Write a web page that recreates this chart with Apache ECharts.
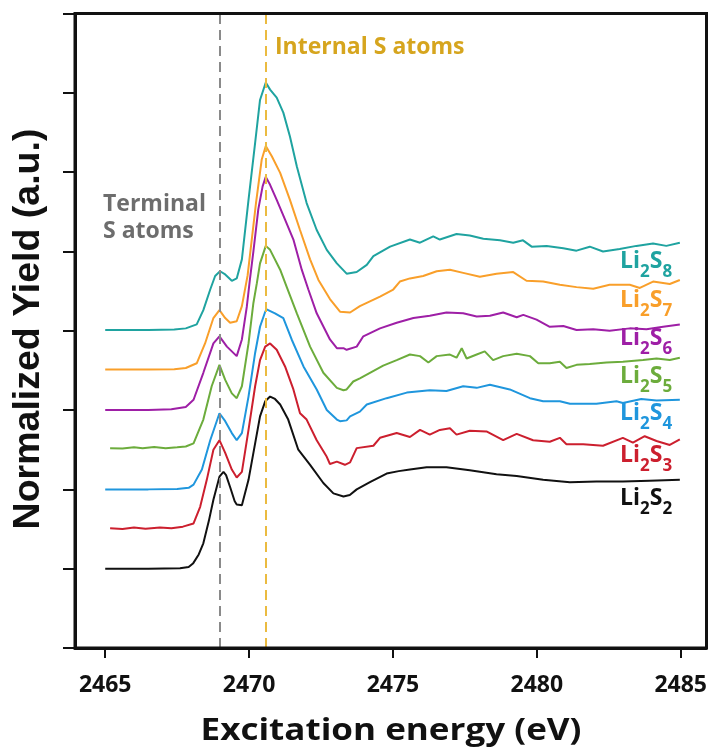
<!DOCTYPE html>
<html><head><meta charset="utf-8">
<script src="https://cdn.jsdelivr.net/npm/echarts@6/dist/echarts.min.js"></script>
<style>html,body{margin:0;padding:0;background:#fff}#c{width:710px;height:751px}</style>
</head><body><div id="c"></div>
<script>
// ---- data ----
const xTicks = [2465, 2470, 2475, 2480, 2485];
const terminalE = 2468.97;
const internalE = 2470.58;

const li2s2 = [[2465.0,1.00],[2466.5,1.00],[2467.6,1.005],[2467.9,1.02],[2468.06,1.07],[2468.25,1.18],[2468.41,1.32],[2468.6,1.6],[2468.76,1.87],[2468.97,2.16],[2469.11,2.22],[2469.2,2.18],[2469.34,2.03],[2469.5,1.85],[2469.57,1.81],[2469.75,1.80],[2469.98,2.12],[2470.21,2.58],[2470.38,2.92],[2470.56,3.11],[2470.73,3.17],[2470.9,3.14],[2471.08,3.07],[2471.36,2.88],[2471.71,2.50],[2472.12,2.31],[2472.58,2.08],[2472.93,1.95],[2473.28,1.91],[2473.5,1.93],[2473.74,2.00],[2474.2,2.09],[2474.78,2.20],[2475.2,2.23],[2475.59,2.25],[2476.17,2.28],[2476.86,2.28],[2477.67,2.24],[2478.6,2.19],[2479.3,2.17],[2480.22,2.12],[2481.15,2.09],[2482.07,2.10],[2482.99,2.10],[2483.92,2.11],[2484.97,2.12]];

const li2s3 = [[2465.17,1.51],[2465.6,1.50],[2466.0,1.52],[2466.4,1.505],[2466.9,1.52],[2467.3,1.51],[2467.7,1.53],[2468.07,1.57],[2468.30,1.78],[2468.53,2.12],[2468.76,2.50],[2468.97,2.62],[2469.17,2.46],[2469.40,2.25],[2469.57,2.15],[2469.75,2.22],[2469.98,2.75],[2470.21,3.30],[2470.38,3.63],[2470.56,3.80],[2470.73,3.84],[2470.96,3.76],[2471.25,3.55],[2471.54,3.26],[2471.77,2.96],[2472.00,2.88],[2472.35,2.62],[2472.70,2.41],[2472.81,2.32],[2473.05,2.35],[2473.33,2.31],[2473.51,2.34],[2473.74,2.52],[2474.32,2.55],[2474.55,2.65],[2475.13,2.71],[2475.59,2.66],[2475.94,2.75],[2476.28,2.69],[2476.63,2.75],[2476.98,2.77],[2477.21,2.69],[2477.67,2.74],[2478.25,2.73],[2478.83,2.62],[2479.30,2.70],[2479.87,2.62],[2480.45,2.60],[2480.80,2.65],[2481.03,2.57],[2481.61,2.57],[2482.30,2.55],[2482.99,2.65],[2483.34,2.59],[2483.75,2.67],[2484.16,2.61],[2484.62,2.56],[2484.97,2.63]];

const li2s4 = [[2465,2.0],[2466.5,2.0],[2467.5,2.005],[2467.9,2.02],[2468.07,2.06],[2468.36,2.25],[2468.65,2.62],[2468.97,2.96],[2469.17,2.86],[2469.40,2.71],[2469.57,2.62],[2469.75,2.71],[2469.98,3.17],[2470.21,3.72],[2470.38,4.05],[2470.56,4.24],[2470.61,4.27],[2470.90,4.22],[2471.19,4.16],[2471.48,3.89],[2471.89,3.55],[2472.35,3.26],[2472.70,3.00],[2473.05,2.88],[2473.16,2.86],[2473.39,2.87],[2473.51,2.92],[2473.85,2.98],[2474.09,3.07],[2474.78,3.15],[2475.48,3.22],[2476.28,3.25],[2476.86,3.24],[2477.44,3.30],[2477.91,3.28],[2478.37,3.32],[2479.06,3.26],[2479.76,3.15],[2480.22,3.11],[2480.80,3.11],[2481.15,3.08],[2482.07,3.08],[2482.77,3.11],[2482.99,3.09],[2483.63,3.14],[2484.16,3.12],[2484.97,3.13]];

const li2s5 = [[2465.17,2.52],[2465.6,2.515],[2466.0,2.53],[2466.3,2.52],[2466.7,2.535],[2467.1,2.52],[2467.5,2.53],[2467.8,2.54],[2468.07,2.58],[2468.41,2.88],[2468.70,3.30],[2468.97,3.57],[2469.17,3.38],[2469.40,3.21],[2469.57,3.15],[2469.75,3.30],[2469.98,3.84],[2470.15,4.35],[2470.27,4.60],[2470.38,4.85],[2470.58,5.07],[2470.73,5.02],[2471.08,4.77],[2471.31,4.55],[2471.66,4.22],[2472.12,3.80],[2472.58,3.47],[2473.05,3.28],[2473.28,3.25],[2473.39,3.26],[2473.62,3.36],[2473.85,3.40],[2474.20,3.47],[2474.66,3.56],[2475.13,3.63],[2475.59,3.70],[2475.94,3.68],[2476.23,3.60],[2476.52,3.68],[2476.98,3.70],[2477.21,3.66],[2477.39,3.78],[2477.56,3.65],[2477.91,3.70],[2478.19,3.74],[2478.48,3.63],[2478.83,3.68],[2479.30,3.71],[2479.76,3.68],[2480.05,3.59],[2480.45,3.59],[2480.80,3.61],[2481.03,3.53],[2481.38,3.57],[2481.84,3.58],[2482.42,3.60],[2482.99,3.61],[2483.69,3.63],[2484.16,3.65],[2484.62,3.63],[2484.97,3.66]];

const li2s6 = [[2465,3.0],[2466.5,3.0],[2467.3,3.01],[2467.8,3.04],[2468.07,3.13],[2468.41,3.47],[2468.76,3.84],[2468.97,3.93],[2469.23,3.80],[2469.57,3.68],[2469.75,3.89],[2469.92,4.30],[2470.03,4.65],[2470.15,5.00],[2470.32,5.53],[2470.47,5.82],[2470.58,5.94],[2470.73,5.84],[2470.96,5.65],[2471.25,5.40],[2471.54,5.15],[2471.83,4.77],[2472.06,4.52],[2472.35,4.22],[2472.81,3.89],[2473.05,3.78],[2473.28,3.78],[2473.39,3.76],[2473.74,3.80],[2473.97,3.93],[2474.55,4.03],[2475.13,4.10],[2475.71,4.16],[2476.28,4.19],[2476.86,4.23],[2477.44,4.22],[2477.91,4.18],[2478.37,4.19],[2478.83,4.23],[2479.30,4.17],[2479.53,4.20],[2479.99,4.14],[2480.45,4.05],[2480.92,4.06],[2481.38,4.01],[2481.96,4.02],[2482.53,4.00],[2483.23,4.03],[2483.81,4.02],[2484.39,4.05],[2484.97,4.08]];

const li2s7 = [[2465,3.51],[2466.5,3.51],[2467.4,3.515],[2467.8,3.53],[2468.18,3.59],[2468.47,3.84],[2468.76,4.16],[2468.97,4.26],[2469.17,4.16],[2469.34,4.10],[2469.57,4.12],[2469.75,4.31],[2469.95,4.70],[2470.24,5.61],[2470.44,6.16],[2470.58,6.33],[2470.79,6.20],[2471.08,5.99],[2471.42,5.65],[2471.77,5.27],[2472.12,4.90],[2472.41,4.64],[2472.81,4.40],[2473.16,4.24],[2473.51,4.23],[2473.85,4.31],[2474.20,4.37],[2474.55,4.43],[2475.01,4.52],[2475.24,4.62],[2475.59,4.66],[2476.05,4.69],[2476.52,4.75],[2476.98,4.77],[2477.44,4.73],[2478.02,4.68],[2478.60,4.72],[2479.18,4.74],[2479.64,4.63],[2480.22,4.62],[2480.80,4.58],[2481.38,4.55],[2481.96,4.53],[2482.53,4.58],[2483.23,4.58],[2483.58,4.54],[2484.04,4.62],[2484.62,4.59],[2484.97,4.64]];

const li2s8 = [[2465,4.01],[2466.5,4.01],[2467.4,4.015],[2467.8,4.03],[2468.18,4.08],[2468.41,4.26],[2468.65,4.52],[2468.82,4.69],[2468.99,4.75],[2469.17,4.71],[2469.40,4.63],[2469.57,4.66],[2469.75,4.90],[2469.98,5.65],[2470.21,6.37],[2470.38,6.91],[2470.58,7.13],[2470.73,7.04],[2470.96,6.94],[2471.19,6.75],[2471.42,6.45],[2471.66,6.07],[2472.00,5.61],[2472.35,5.27],[2472.70,5.02],[2473.05,4.85],[2473.39,4.72],[2473.74,4.74],[2474.09,4.83],[2474.32,4.94],[2474.90,5.06],[2475.59,5.15],[2475.94,5.11],[2476.40,5.19],[2476.63,5.15],[2477.21,5.22],[2477.67,5.20],[2478.14,5.16],[2478.72,5.14],[2479.18,5.11],[2479.52,5.14],[2479.82,5.06],[2480.34,5.07],[2480.92,5.04],[2481.38,5.01],[2481.84,5.06],[2482.30,5.00],[2482.88,5.03],[2483.46,5.07],[2484.04,5.10],[2484.50,5.07],[2484.97,5.11]];

const seriesData = [li2s2, li2s3, li2s4, li2s5, li2s6, li2s7, li2s8];
const subscripts = ['2', '3', '4', '5', '6', '7', '8'];

// ---- styles / layout ----
const colors = ['#111111', '#cc1f2e', '#1f96dd', '#6cac3c', '#9e1fa6', '#f99f2a', '#1fa3a0'];
const labelY = [498, 455, 413, 376, 338, 300, 261];
const FONT = '"Open Sans", "Noto Sans", sans-serif';
const X_MIN = 2463.95, X_MAX = 2485.88, Y_MIN = 0, Y_MAX = 8;
const G = {left: 75, top: 13.5, width: 631.5, height: 634.5};

const chart = echarts.init(document.getElementById('c'), null, {renderer: 'canvas'});

const series = seriesData.map((d, i) => ({
  type: 'line',
  name: 'Li' + '\u2082' + 'S' + subscripts[i],
  data: d,
  showSymbol: false,
  smooth: false,
  lineStyle: {color: colors[i], width: 2},
  itemStyle: {color: colors[i]},
  z: 3,
  animation: false
}));

series.push({
  type: 'line',
  data: [],
  markLine: {
    silent: true,
    symbol: 'none',
    label: {show: false},
    animation: false,
    data: [
      {xAxis: terminalE, lineStyle: {color: '#8a8a8a', width: 2, type: [10, 6]}},
      {xAxis: internalE, lineStyle: {color: '#ebbb40', width: 2, type: [10, 6]}}
    ]
  },
  z: 2
});

const labelGraphics = subscripts.map((s, i) => ({
  type: 'text',
  x: 620,
  y: labelY[i],
  z: 10,
  style: {
    text: '{m|Li}{s|2}{m|S}{s|' + s + '}',
    align: 'left',
    verticalAlign: 'middle',
    fill: colors[i],
    rich: {
      m: {fontFamily: FONT, fontWeight: 'bold', fontSize: 23, fill: colors[i], color: colors[i]},
      s: {fontFamily: FONT, fontWeight: 'bold', fontSize: 17, fill: colors[i], color: colors[i], padding: [22, 0, 0, 0]}
    }
  }
}));

const option = {
  backgroundColor: '#fff',
  animation: false,
  grid: {left: G.left, top: G.top, width: G.width, height: G.height, containLabel: false},
  xAxis: {
    type: 'value',
    min: X_MIN,
    max: X_MAX,
    axisLine: {show: true, onZero: false, lineStyle: {color: '#111', width: 3}},
    axisTick: {show: true, length: 10, lineStyle: {color: '#111', width: 2}, customValues: xTicks},
    axisLabel: {show: true, customValues: xTicks, formatter: v => String(v), margin: 26, color: '#111', fontFamily: FONT, fontWeight: 'bold', fontSize: 23},
    splitLine: {show: false}
  },
  yAxis: {
    type: 'value',
    min: Y_MIN,
    max: Y_MAX,
    interval: 1,
    axisLine: {show: true, onZero: false, lineStyle: {color: '#111', width: 3}},
    axisTick: {show: true, length: 12, lineStyle: {color: '#111', width: 2}},
    axisLabel: {show: false},
    splitLine: {show: false}
  },
  graphic: {elements: [
    {type: 'rect', z: 50, silent: true, shape: {x: G.left, y: G.top, width: G.width, height: G.height}, style: {fill: null, stroke: '#111', lineWidth: 3}},
    {type: 'text', x: 275, y: 47, z: 10, style: {text: 'Internal S atoms', font: 'bold 23px ' + FONT, fill: '#d6a51e', align: 'left', verticalAlign: 'middle'}},
    {type: 'text', x: 103, y: 191, z: 10, style: {text: 'Terminal\nS atoms', font: 'bold 23px ' + FONT, fill: '#6d6d6d', align: 'left', verticalAlign: 'top', lineHeight: 27}},
    {type: 'text', x: 29, y: 329, rotation: Math.PI / 2, z: 10, style: {text: 'Normalized Yield (a.u.)', font: 'bold 37.5px "Liberation Sans", Arial, sans-serif', fill: '#111', align: 'center', verticalAlign: 'middle'}},
    {type: 'text', x: 391, y: 731, scaleX: 1.13, z: 10, style: {text: 'Excitation energy (eV)', font: 'bold 31px ' + FONT, fill: '#111', align: 'center', verticalAlign: 'middle'}}
  ].concat(labelGraphics)},
  series: series
};
chart.setOption(option);
</script>
</body></html>
